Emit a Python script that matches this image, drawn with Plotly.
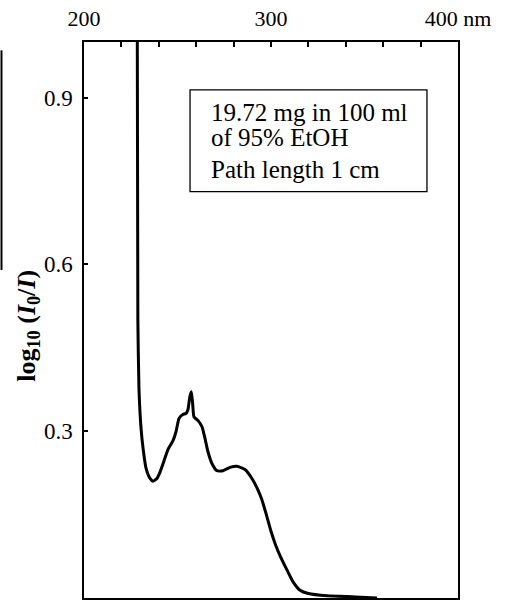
import plotly.graph_objects as go

# Absorption spectrum: wavelength (nm) vs log10(I0/I)
wavelength_nm = [228.5, 228.8, 229.4, 230.5, 231.6, 233.2, 235.3, 236.9, 239.0,
                 240.6, 242.8, 244.9, 247.6, 249.2, 250.8, 252.9, 254.6, 255.6, 256.6,
                 257.4, 258.1, 258.8, 261.0, 263.1, 264.7, 266.3, 268.4, 271.1, 274.3,
                 278.1, 281.8, 286.1, 289.8, 292.5, 295.0, 297.5, 300.0, 302.5, 305.0,
                 308.6, 311.8, 315.5, 320.0, 330.0, 345.0, 356.7]
absorbance = [1.000, 0.500, 0.376, 0.305, 0.269, 0.233, 0.215, 0.210, 0.215,
              0.226, 0.247, 0.267, 0.283, 0.299, 0.323, 0.330, 0.332, 0.339, 0.362,
              0.371, 0.350, 0.326, 0.319, 0.308, 0.287, 0.263, 0.242, 0.229, 0.229,
              0.235, 0.237, 0.231, 0.215, 0.198, 0.178, 0.150, 0.120, 0.095, 0.075,
              0.050, 0.029, 0.014, 0.008, 0.004, 0.002, 0.000]

x_ticks = [200, 220, 240, 260, 280, 300, 320, 340, 360, 380, 400]
x_tick_text = ["200", "", "", "", "", "300", "", "", "", "", "400 nm"]
y_ticks = [0.3, 0.6, 0.9]
y_tick_text = ["0.3", "0.6", "0.9"]

sample_lines = ["19.72 mg in 100 ml", "of 95% EtOH", "Path length 1 cm"]

SERIF = "Liberation Serif, Times New Roman, serif"

fig = go.Figure()
fig.add_trace(go.Scatter(
    x=wavelength_nm, y=absorbance, mode="lines",
    line=dict(color="black", width=3, shape="spline", smoothing=0.5),
    showlegend=False, hoverinfo="skip",
))

# Sample description box
fig.add_shape(type="rect", xref="x", yref="paper",
              x0=256.7, x1=383.4, y0=0.731, y1=0.914,
              line=dict(color="black", width=1.3), fillcolor="rgba(0,0,0,0)")
for text, yy in zip(sample_lines, [0.873, 0.828, 0.771]):
    fig.add_annotation(x=266.8, y=yy, xref="x", yref="paper", text=text,
                       showarrow=False, xanchor="left", yanchor="middle",
                       font=dict(family=SERIF, size=25, color="black"))

# Axis title, set vertically beside the tick labels
fig.add_annotation(x=-0.152, y=0.49, xref="paper", yref="paper",
                   text="<b>log<sub>10</sub> (<i>I</i><sub>0</sub>/<i>I</i>)</b>",
                   textangle=-90, showarrow=False, xanchor="center", yanchor="middle",
                   font=dict(family=SERIF, size=26, color="black"))

# Edge line along the left margin
fig.add_shape(type="line", xref="paper", yref="paper",
              x0=-0.2206, x1=-0.2206, y0=0.985, y1=0.59,
              line=dict(color="black", width=2))

fig.update_layout(
    width=509, height=601,
    margin=dict(l=84, r=51, t=42, b=1),
    paper_bgcolor="white", plot_bgcolor="white",
    xaxis=dict(range=[200, 400], side="top", tickvals=x_ticks, ticktext=x_tick_text,
               ticks="inside", ticklen=5, tickwidth=1.5, tickcolor="black",
               showline=True, linecolor="black", linewidth=1.5, mirror=True,
               showgrid=False, zeroline=False, ticklabelstandoff=5,
               tickfont=dict(family=SERIF, size=22, color="black")),
    yaxis=dict(range=[0, 1], tickvals=y_ticks, ticktext=y_tick_text,
               ticks="inside", ticklen=4, tickwidth=1.5, tickcolor="black",
               showline=True, linecolor="black", linewidth=1.5, mirror=True,
               showgrid=False, zeroline=False, ticklabelstandoff=5,
               tickfont=dict(family=SERIF, size=23, color="black")),
)

fig.write_html("out.html")
